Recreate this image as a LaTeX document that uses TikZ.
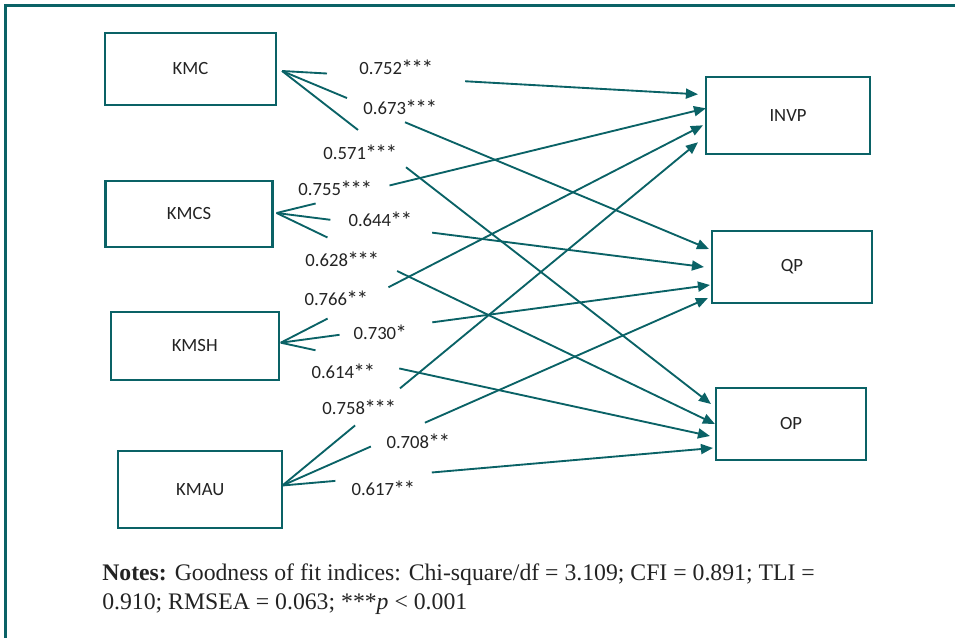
\documentclass[tikz,border=0pt]{standalone}
\usepackage{fontspec}
\setmainfont{Liberation Serif}
\newfontfamily\calfont{Carlito}
\usetikzlibrary{arrows.meta,calc}
\definecolor{teal}{RGB}{10,98,102}
\definecolor{txt}{RGB}{35,35,35}
\tikzset{
  box/.style={draw=teal, line width=1.6pt, inner sep=0pt, font=\calfont\fontsize{14}{16}\selectfont, text=txt},
  coef/.style={inner sep=0pt, font=\calfont\fontsize{14}{16}\selectfont, text=txt},
  lnk/.style={draw=teal, line width=1.4pt},
  arr/.style={lnk, -{Triangle[length=9pt,width=7.5pt]}},
}
\newcommand\st{\kern-0.55pt\raisebox{-1.6pt}{\fontsize{17.5}{18}\selectfont *}\kern-0.55pt}
\newcommand\conn[4]{%
  \draw[lnk] (#1) -- ($(#1)!#3!(#2)$);
  \draw[arr] ($(#1)!#4!(#2)$) -- (#2);
}
\begin{document}
\begin{tikzpicture}[x=0.75pt,y=-0.75pt]
\useasboundingbox (0,0) rectangle (955,638);
% frame
\draw[teal, line width=2.3pt] (955,5.5) -- (5.5,5.5) -- (5.5,638);
% boxes
\node[box, minimum width=171*0.75pt, minimum height=72*0.75pt] (KMC)  at (190.5,69) {KMC};
\node[box, minimum width=167*0.75pt, minimum height=66*0.75pt] (KMCS) at (189,214) {KMCS};
\node[box, minimum width=168*0.75pt, minimum height=68*0.75pt] (KMSH) at (194.7,345.7) {KMSH};
\node[box, minimum width=164*0.75pt, minimum height=77*0.75pt] (KMAU) at (200.3,489.5) {KMAU};
\node[box, minimum width=164*0.75pt, minimum height=77*0.75pt] (INVP) at (788,115.3) {INVP};
\node[box, minimum width=160*0.75pt, minimum height=72*0.75pt] (QP)   at (792,267) {QP};
\node[box, minimum width=150*0.75pt, minimum height=72*0.75pt] (OP)   at (791,424) {OP};
% start points
\coordinate (sKMC)  at ($(KMC.east)+(5,2)$);
\coordinate (sKMCS) at ($(KMCS.east)+(3,-1)$);
\coordinate (sKMSH) at ($(KMSH.east)+(1,-3)$);
\coordinate (sKMAU) at ($(KMAU.east)+(-1,-4)$);
% end points
\coordinate (eI1) at ($(INVP.west)+(-7,-21)$);
\coordinate (eI2) at ($(INVP.west)+(1,-7)$);
\coordinate (eI3) at ($(INVP.west)+(-2,10)$);
\coordinate (eI4) at ($(INVP.west)+(-7,27)$);
\coordinate (eQ1) at ($(QP.west)+(-2,-18)$);
\coordinate (eQ2) at ($(QP.west)+(-7,0)$);
\coordinate (eQ3) at ($(QP.west)+(-1,18)$);
\coordinate (eQ4) at ($(QP.west)+(-3,31)$);
\coordinate (eO1) at ($(OP.west)+(-4,-20)$);
\coordinate (eO2) at ($(OP.west)+(0,0)$);
\coordinate (eO3) at ($(OP.west)+(-5,12)$);
\coordinate (eO4) at ($(OP.west)+(-2,24)$);
% connectors
\conn{sKMC}{eI1}{0.108}{0.44}
\conn{sKMC}{eQ1}{0.152}{0.288}
\conn{sKMC}{eO1}{0.177}{0.289}
\conn{sKMCS}{eI2}{0.091}{0.263}
\conn{sKMCS}{eQ2}{0.126}{0.364}
\conn{sKMCS}{eO2}{0.116}{0.275}
\conn{sKMSH}{eI3}{0.111}{0.255}
\conn{sKMSH}{eQ3}{0.137}{0.353}
\conn{sKMSH}{eO3}{0.081}{0.276}
\conn{sKMAU}{eI4}{0.175}{0.283}
\conn{sKMAU}{eQ4}{0.208}{0.335}
\conn{sKMAU}{eO4}{0.123}{0.347}
% coefficients
\node[coef] (c1)  at (396,68)  {0.752\st\st\st};
\node[coef] (c2)  at (400,108) {0.673\st\st\st};
\node[coef] (c3)  at (360,153) {0.571\st\st\st};
\node[coef] (c4)  at (335,189) {0.755\st\st\st};
\node[coef] (c5)  at (380,220) {0.644\st\st};
\node[coef] (c6)  at (342,260) {0.628\st\st\st};
\node[coef] (c7)  at (336,299) {0.766\st\st};
\node[coef] (c8)  at (380,333) {0.730\st};
\node[coef] (c9)  at (343,372) {0.614\st\st};
\node[coef] (c10) at (359,408) {0.758\st\st\st};
\node[coef] (c11) at (418,442) {0.708\st\st};
\node[coef] (c12) at (383,489) {0.617\st\st};
% notes
\node[anchor=base west, inner sep=0pt, text=txt, font=\fontsize{17.8}{21.75}\selectfont] (n1) at (102,580)
  {\textbf{Notes:} Goodness of fit indices: Chi-square/df = 3.109; CFI = 0.891; TLI =};
\node[anchor=base west, inner sep=0pt, text=txt, font=\fontsize{17.8}{21.75}\selectfont] (n2) at (102,609)
  {0.910; RMSEA = 0.063; ***\textit{p} < 0.001};
\end{tikzpicture}
\end{document}
